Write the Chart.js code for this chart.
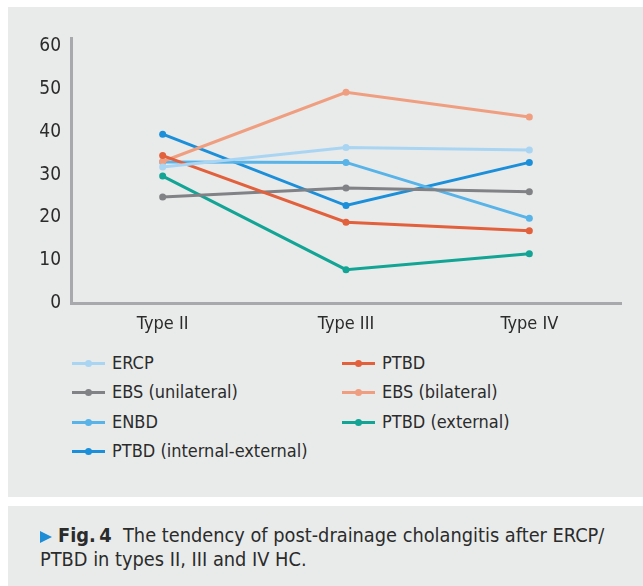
<!DOCTYPE html>
<html>
<head>
<meta charset="utf-8">
<script src="https://cdn.jsdelivr.net/npm/chart.js@4.4.1/dist/chart.umd.min.js"></script>
<style>
  html, body { margin:0; padding:0; background:#fff; }
  body { width:643px; height:586px; position:relative; overflow:hidden; font-family:"DejaVu Sans Condensed", "DejaVu Sans", sans-serif; color:#2b2b2b; }
  .panel { position:absolute; left:8px; top:7px; width:635px; height:490px; background:#e9ebea; }
  .cap { position:absolute; left:8px; top:506px; width:635px; height:80px; background:#e9ebea; }
  #wrap { position:absolute; left:0; top:0; width:643px; height:340px; }
  .lg { position:absolute; height:20px; font-size:18px; line-height:20px; white-space:nowrap; }
  .lg .mk { position:absolute; left:0; top:9px; width:33px; height:3px; }
  .lg .dot { position:absolute; left:13px; top:7px; width:7px; height:7px; border-radius:50%; }
  .lg .tx { position:absolute; left:40px; top:0; }
  .captext { position:absolute; left:40px; top:524px; font-size:19.8px; line-height:24px; color:#2b2b2b; white-space:nowrap; }
  .tri { display:inline-block; width:0; height:0; border-left:12px solid #1f8dd6; border-top:6.5px solid transparent; border-bottom:6.5px solid transparent; margin-right:6px; vertical-align:-1px; }
</style>
</head>
<body>
<div class="panel"></div>
<div class="cap"></div>
<div id="wrap"><canvas id="chart" width="643" height="340"></canvas></div>
<div id="legend"></div>
<div class="captext"><span class="tri"></span><b>Fig.&#8201;4</b>&nbsp; The tendency of post-drainage cholangitis after ERCP/<br>PTBD in types II, III and IV HC.</div>
<script>
const labels = ['Type II', 'Type III', 'Type IV'];
const seriesNames = ['ERCP', 'PTBD', 'EBS (unilateral)', 'EBS (bilateral)', 'ENBD', 'PTBD (external)', 'PTBD (internal-external)'];
const ercp = [31.8, 36.4, 35.8];
const ptbd = [34.5, 18.9, 16.9];
const ebsUni = [24.8, 26.9, 26.0];
const ebsBi = [33.1, 49.3, 43.5];
const enbd = [33.0, 32.9, 19.8];
const ptbdExt = [29.7, 7.8, 11.5];
const ptbdIntExt = [39.5, 22.8, 32.9];
const yTicks = [0, 10, 20, 30, 40, 50, 60];

const colors = ['#a9d5f3', '#e2603b', '#808285', '#f09e80', '#57b3e8', '#12a494', '#1b8fd9'];
const values = [ercp, ptbd, ebsUni, ebsBi, enbd, ptbdExt, ptbdIntExt];

const font = { family: '"DejaVu Sans Condensed", "DejaVu Sans", sans-serif', size: 18 };

const datasets = seriesNames.map((n, i) => ({
  label: n, data: values[i], borderColor: colors[i], backgroundColor: colors[i],
  borderWidth: 3, pointRadius: 3.5, pointBorderWidth: 0, pointBackgroundColor: colors[i], tension: 0
}));

new Chart(document.getElementById('chart').getContext('2d'), {
  type: 'line',
  data: { labels: labels, datasets: datasets },
  options: {
    responsive: false, animation: false,
    layout: { padding: { left: 0, right: 22, top: 38, bottom: 0 } },
    plugins: { legend: { display: false }, tooltip: { enabled: false } },
    scales: {
      x: {
        offset: true,
        grid: { display: false, drawTicks: false },
        border: { display: true, color: '#a7a9ac', width: 3 },
        ticks: { color: '#2b2b2b', font: font, padding: 11 },
        afterFit: s => { s.height = 37; }
      },
      y: {
        min: 0, max: 62,
        grid: { display: false, drawTicks: false },
        border: { display: true, color: '#a7a9ac', width: 3 },
        ticks: { color: '#2b2b2b', font: { family: font.family, size: 19 }, padding: 10, stepSize: 10 },
        afterBuildTicks: s => { s.ticks = yTicks.map(v => ({ value: v })); },
        afterFit: s => { s.width = 71; }
      }
    }
  }
});

// legend, two columns, row-major
const lg = document.getElementById('legend');
seriesNames.forEach((n, i) => {
  const col = i % 2, row = Math.floor(i / 2);
  const d = document.createElement('div');
  d.className = 'lg';
  d.style.left = (col ? 342 : 72) + 'px';
  d.style.top = (353 + row * 29.3) + 'px';
  d.innerHTML = '<span class="mk" style="background:' + colors[i] + '"></span><span class="dot" style="background:' + colors[i] + '"></span><span class="tx">' + n + '</span>';
  lg.appendChild(d);
});
</script>
</body>
</html>
